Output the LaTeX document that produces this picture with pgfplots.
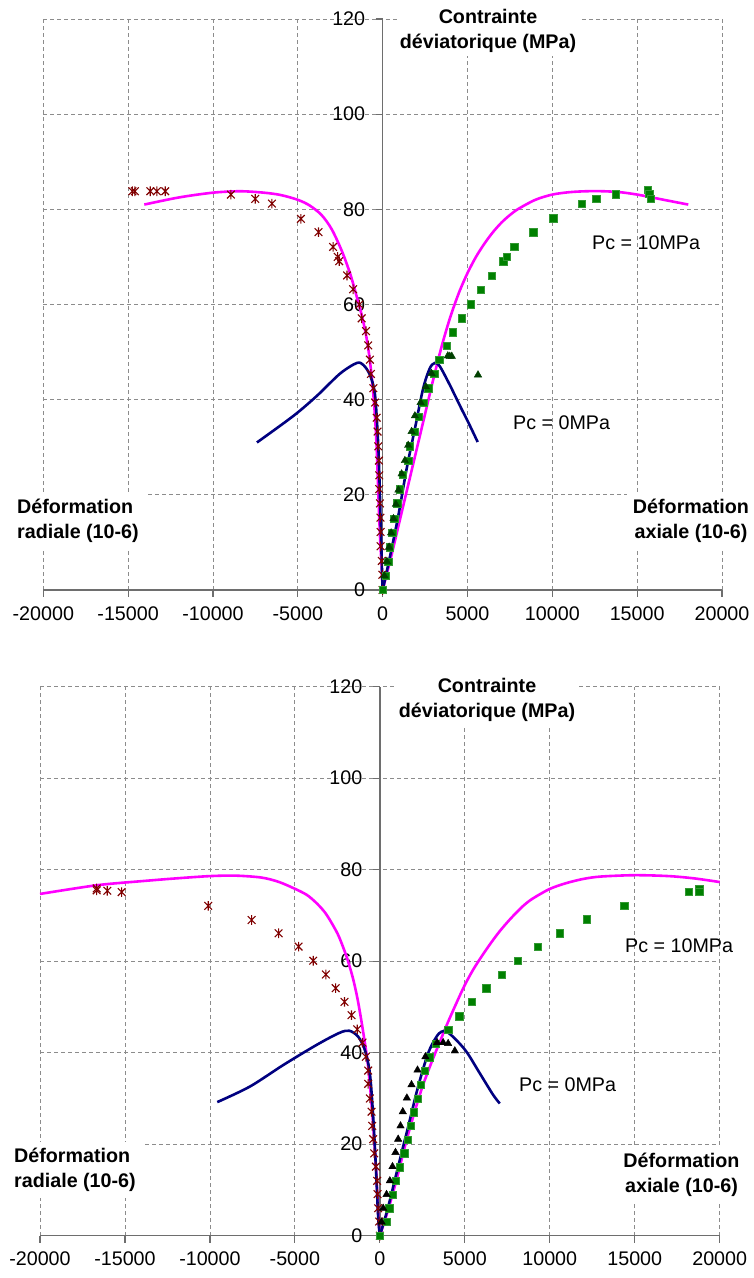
\documentclass[border=0pt]{standalone}
\usepackage{pgfplots}
\pgfplotsset{compat=1.18}
\usepackage{fontspec}
\setmainfont{Liberation Sans}
\definecolor{mag}{RGB}{255,0,255}
\definecolor{nav}{RGB}{0,0,128}
\definecolor{dred}{RGB}{128,0,0}
\definecolor{grn}{RGB}{0,128,0}
\definecolor{dgrn}{RGB}{0,64,0}
\definecolor{gridc}{RGB}{140,140,140}
\definecolor{axc}{RGB}{110,110,110}
\pgfdeclareplotmark{xast}{%
  \pgfpathmoveto{\pgfqpoint{-0.8\pgfplotmarksize}{-0.8\pgfplotmarksize}}%
  \pgfpathlineto{\pgfqpoint{0.8\pgfplotmarksize}{0.8\pgfplotmarksize}}%
  \pgfpathmoveto{\pgfqpoint{-0.8\pgfplotmarksize}{0.8\pgfplotmarksize}}%
  \pgfpathlineto{\pgfqpoint{0.8\pgfplotmarksize}{-0.8\pgfplotmarksize}}%
  \pgfpathmoveto{\pgfqpoint{0pt}{-\pgfplotmarksize}}%
  \pgfpathlineto{\pgfqpoint{0pt}{\pgfplotmarksize}}%
  \pgfusepathqstroke}
\pgfplotsset{
  myaxis/.style={
    scale only axis, anchor=south west,
    xmin=-20000, xmax=20000, ymin=0, ymax=120,
    xtick={-20000,-15000,...,20000}, ytick={0,20,...,120},
    scaled x ticks=false, scaled y ticks=false,
    axis x line=bottom, axis y line=middle,
    axis line style={-, draw=axc, line width=1.3pt},
    grid=major,
    major grid style={gridc, dash pattern=on 4pt off 3pt, line width=0.8pt},
    tick style={axc, line width=1.2pt}, major tick length=7pt, tick align=outside,
    ticklabel style={font=\fontsize{19.7}{23}\selectfont},
    yticklabel style={xshift=-7pt},
    xticklabel style={yshift=-6pt},
    /pgf/number format/assume math mode=true,
    /pgf/number format/1000 sep={},
    hide obscured x ticks=false, hide obscured y ticks=false,
    clip=false,
  },
  curvem/.style={no marks, smooth, mag, line width=2.6pt},
  curven/.style={no marks, smooth, nav, line width=2.6pt},
  ast/.style={only marks, mark=xast, mark size=4.8pt, mark options={dred, line width=1.1pt}},
  sq/.style={only marks, mark=square*, mark size=3.7pt, mark options={fill=grn, draw=grn!80!white, line width=0.4pt}},
  tri/.style={only marks, mark=triangle*, mark size=4.3pt},
}
\newcommand{\lbl}{\fontsize{19.7}{25}\selectfont}
\begin{document}
\begin{tikzpicture}
\useasboundingbox (0pt,0pt) rectangle (753pt,1278pt);
% ---------------- TOP CHART ----------------
\begin{axis}[myaxis, at={(43.3pt,688pt)}, width=678.7pt, height=571pt]
\addplot[curvem] coordinates {(0,0) (-60,5) (-140,10) (-220,17) (-300,25) (-380,32) (-480,38) (-620,44) (-800,49.5) (-1000,54) (-1250,58) (-1500,61.3) (-1900,66.3) (-2400,71.2) (-3000,75.8) (-3600,78.8) (-4300,80.8) (-5000,82) (-6000,83) (-7000,83.5) (-8400,83.8) (-10000,83.5) (-12000,82.5) (-14048,81)};
\addplot[curvem] coordinates {(0,0) (500,7) (1000,14.5) (1500,22) (2000,29.5) (2500,37) (3000,44.5) (3500,51.5) (4000,57.5) (4500,62.5) (5000,66.6) (5500,70) (6000,72.8) (6500,75.2) (7000,77.2) (7500,78.8) (8000,80.1) (9000,82) (10000,83.1) (11000,83.6) (12000,83.8) (13000,83.8) (14000,83.6) (15000,83.1) (16000,82.4) (17000,81.7) (18012,81)};
\addplot[curven] coordinates {(0,0) (-50,5.6) (-160,19.8) (-260,30.4) (-450,41) (-750,45.2) (-1140,47.3) (-1530,47.7) (-2503,45.5) (-3876,40.8) (-5254,36.6) (-7410,31)};
\addplot[curven] coordinates {(0,0) (430,7) (918,15.5) (1410,25.4) (1900,33.9) (2390,42.4) (2780,46.6) (3075,47.7) (3370,47) (3957,43.1) (4545,38.8) (5133,34.6) (5600,31.1)};
\addplot[ast] coordinates {(0,0) (-20,3.2) (-50,6.1) (-120,9.2) (-120,12.2) (-130,15.2) (-160,18.2) (-200,21.2) (-200,24.1) (-220,27.2) (-260,30.2) (-300,33.3) (-350,36.2) (-450,39.4) (-550,42.4) (-690,45.4) (-750,48.4) (-850,51.4) (-980,54.4) (-1235,57.1) (-1376,60) (-1740,63.2) (-2100,66.1) (-2560,69.1) (-2650,70) (-2920,72.1) (-3781,75.2) (-4818,78) (-6526,81.2) (-7510,82.2) (-8942,83.1) (-12812,83.8) (-13304,83.8) (-13695,83.8) (-14600,83.8) (-14750,83.8)};
\addplot[sq] coordinates {(0,0) (194,3) (330,6) (430,9) (565,12.1) (680,15) (860,18.2) (1017,21.2) (1175,24.2) (1505,27.2) (1605,30.2) (1880,33.3) (2135,36.4) (2390,39.4) (2680,42.4) (3035,45.4) (3330,48.4) (3763,51.4) (4130,54.2) (4670,57.1) (5200,60.1) (5790,63.1) (6430,66.1) (7116,69.1) (7313,70) (7764,72.1) (8882,75.2) (10062,78.1) (11730,81.2) (12575,82.2) (13735,83.2) (15620,84.1) (15720,83.3) (15815,82.2)};
\addplot[tri, mark options={fill=dgrn, draw=dgrn}] coordinates {(100,3) (250,6) (380,9) (500,12) (640,15) (780,18) (930,21) (1117,24.4) (1310,27.2) (1505,30.4) (1705,33.3) (1900,36.6) (2235,39.4) (2545,42.7) (2880,45.5) (3840,49.2) (3957,49.1) (4075,49.1) (5620,45.2)};
\end{axis}
% ---------------- BOTTOM CHART ----------------
\begin{axis}[myaxis, at={(40pt,42.3pt)}, width=679.7pt, height=549pt]
\addplot[curvem] coordinates {(0,0) (-100,5) (-230,15) (-430,26) (-690,37) (-980,44.5) (-1300,51.5) (-1600,56.5) (-1960,61) (-2400,65.3) (-2750,67.8) (-3200,70.5) (-3700,72.6) (-4300,74.5) (-5100,76) (-6000,77.4) (-7000,78.3) (-8500,78.7) (-10000,78.6) (-12000,78.1) (-14000,77.5) (-16664,76.6) (-20000,74.7)};
\addplot[curvem] coordinates {(0,0) (500,5.8) (1000,12.5) (1500,19.9) (2000,26.5) (2500,32.5) (3000,37.5) (3500,42.1) (4000,46.6) (4500,50.8) (5000,54.8) (5500,58.2) (6000,61.1) (6500,63.8) (7000,66.3) (7500,68.5) (8000,70.5) (8500,72.3) (9000,73.7) (10000,75.8) (11000,77.1) (12000,78) (13000,78.5) (15000,78.8) (17000,78.6) (18500,78.1) (20000,77.3)};
\addplot[curven] coordinates {(0,0) (-98,4.1) (-235,15.1) (-392,26) (-588,35.5) (-882,40.6) (-1275,43.5) (-1800,44.8) (-2400,44.3) (-3723,41.7) (-5686,37.3) (-7647,32.6) (-9568,29.2)};
\addplot[curven] coordinates {(0,0) (490,6.3) (1076,15.1) (1665,23.8) (2253,32.6) (2841,39.9) (3335,43.5) (3630,44.6) (3923,44.6) (4412,43.1) (5100,40.2) (5882,35.5) (6664,30.8) (7058,28.9)};
\addplot[ast] coordinates {(0,0) (-40,3.1) (-98,6) (-137,9.1) (-157,12) (-235,15.1) (-333,18) (-392,21.1) (-451,24) (-490,27.1) (-588,30) (-686,33.2) (-686,36.1) (-824,39.1) (-1020,42.2) (-1333,45.1) (-1667,48.2) (-2080,51.1) (-2600,54.1) (-3176,57.1) (-3921,60.1) (-4784,63.2) (-5960,66.1) (-7547,69) (-10100,72.1) (-15195,75.1) (-16040,75.4) (-16664,75.5) (-16664,75.9)};
\addplot[sq] coordinates {(0,0) (394,3.1) (549,6) (745,9) (941,12) (1176,15) (1430,18) (1627,21) (1823,24) (2000,27) (2216,30) (2412,33) (2647,36) (2902,39) (3294,42) (4019,45) (4667,48) (5410,51.2) (6250,54.1) (7157,57.1) (8120,60.1) (9274,63.2) (10588,66.1) (12176,69.2) (14372,72.1) (18176,75.2) (18784,75.7) (18784,75.2)};
\addplot[tri, mark options={fill=black, draw=black}] coordinates {(100,3) (196,6) (394,9) (588,12) (745,15.1) (921,18.2) (1078,21.1) (1216,24) (1350,27.1) (1590,30.1) (1863,33) (2216,36.2) (2680,39.1) (3372,42.2) (3725,42.2) (4019,42) (4412,40.4)};
\end{axis}
% ---------------- LABELS ----------------
\begin{scope}[every node/.style={font=\lbl}]
% top
\node[fill=white, inner sep=3pt, align=center, font=\lbl\bfseries] at (488pt,1247pt) {Contrainte\\déviatorique (MPa)};
\node[anchor=west, inner sep=0pt] at (592pt,1035pt) {Pc = 10MPa};
\node[anchor=west, inner sep=0pt] at (513pt,855pt) {Pc = 0MPa};
\node[anchor=west, fill=white, inner sep=6pt, align=left, font=\lbl\bfseries] at (11pt,757.5pt) {Déformation\\radiale (10-6)};
\node[fill=white, inner sep=6pt, align=center, font=\lbl\bfseries] at (691pt,757.5pt) {Déformation\\axiale (10-6)};
% bottom
\node[fill=white, inner sep=3pt, align=center, font=\lbl\bfseries] at (487pt,578pt) {Contrainte\\déviatorique (MPa)};
\node[anchor=west, inner sep=0pt] at (625pt,332pt) {Pc = 10MPa};
\node[anchor=west, inner sep=0pt] at (519pt,193pt) {Pc = 0MPa};
\node[anchor=west, fill=white, inner sep=6pt, align=left, font=\lbl\bfseries] at (8pt,108pt) {Déformation\\radiale (10-6)};
\node[fill=white, inner sep=6pt, align=center, font=\lbl\bfseries] at (681.5pt,103pt) {Déformation\\axiale (10-6)};
\end{scope}
\end{tikzpicture}
\end{document}
